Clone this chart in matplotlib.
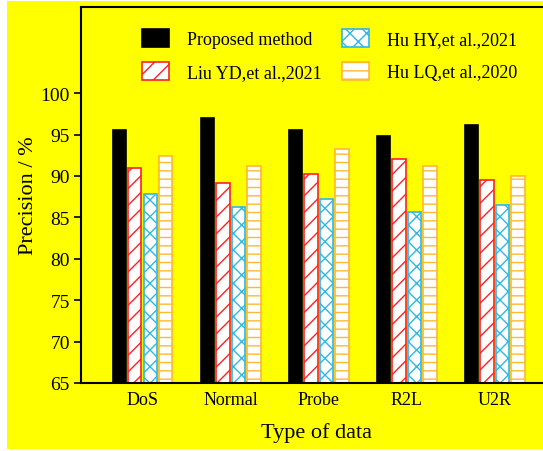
import numpy as np
import matplotlib
matplotlib.use("Agg")
import matplotlib.pyplot as plt
from matplotlib.patches import Rectangle

plt.rcParams['font.family'] = ['Liberation Serif', 'DejaVu Serif']
plt.rcParams['hatch.linewidth'] = 1.0

# data
categories = ['DoS', 'Normal', 'Probe', 'R2L', 'U2R']
series_names = ['Proposed method', 'Liu YD,et al.,2021', 'Hu HY,et al.,2021', 'Hu LQ,et al.,2020']
proposed = [95.6, 97.0, 95.5, 94.8, 96.2]
liu_yd = [90.9, 89.1, 90.2, 92.0, 89.5]
hu_hy = [87.8, 86.3, 87.2, 85.7, 86.5]
hu_lq = [92.4, 91.2, 93.3, 91.2, 90.0]
yticks = [65, 70, 75, 80, 85, 90, 95, 100]

fig = plt.figure(figsize=(5.43, 4.52), dpi=100, facecolor='white')
# yellow backdrop (picture is cropped, white strip at left/bottom)
fig.patches.append(Rectangle((7/543, 2/452), 1 - 7/543, 1 - 4/452, transform=fig.transFigure,
                             facecolor='#FFFF00', edgecolor='none', zorder=-1))
# axes runs past the right edge of the picture, like the cropped original
ax = fig.add_axes([81/543, 1 - 384/452, (552 - 81)/543, (384 - 8)/452])
ax.set_facecolor('#FFFF00')

x = np.arange(len(categories))
w = 0.15
step = 0.176
styles = [
    dict(facecolor='black', edgecolor='black', hatch=None),
    dict(facecolor='white', edgecolor='#FF2020', hatch='//'),
    dict(facecolor='white', edgecolor='#2EB8E6', hatch='xx'),
    dict(facecolor='white', edgecolor='#FFB833', hatch='--'),
]
values = [proposed, liu_yd, hu_hy, hu_lq]
for i, (vals, st, name) in enumerate(zip(values, styles, series_names)):
    ax.bar(x + (i - 1.5) * step, np.array(vals) - 65, width=w, bottom=65,
           label=name, linewidth=1.2, **st)

ax.set_ylim(65, 110.4)
ax.set_xlim(-0.70, 4.65)
ax.set_yticks(yticks)
ax.set_yticklabels([str(t) for t in yticks], fontsize=14)
ax.set_xticks(x)
ax.set_xticklabels(categories, fontsize=13)
ax.tick_params(axis='x', length=0, pad=6)
ax.tick_params(axis='y', direction='out', length=5, width=1.2, pad=3)
for s in ax.spines.values():
    s.set_linewidth(1.5)

ax.set_ylabel('Precision / %', fontsize=16, labelpad=2)
ax.set_xlabel('Type of data', fontsize=16, labelpad=10)

h, l = ax.get_legend_handles_labels()
ax.legend(h, l, ncol=2, frameon=False,
          fontsize=13, loc='upper left', bbox_to_anchor=(0.095, 0.985),
          handlelength=1.5, handleheight=1.2, columnspacing=1.1,
          handletextpad=1.0, labelspacing=0.75)

fig.savefig('out.png', dpi=100, facecolor='white')
